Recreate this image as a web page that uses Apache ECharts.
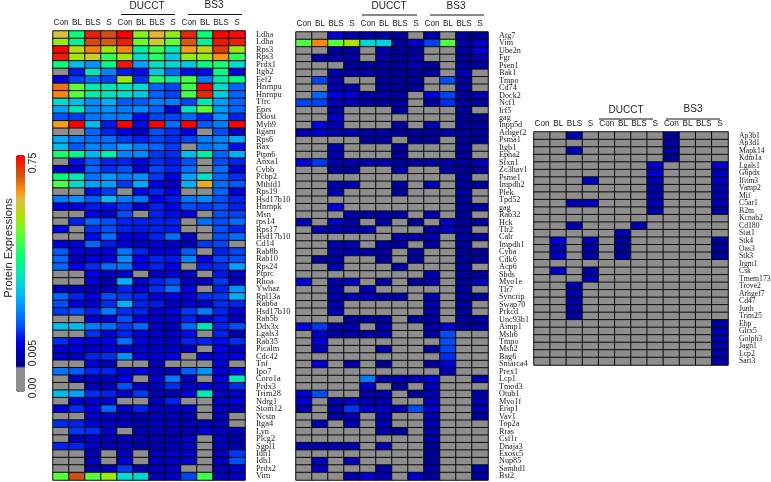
<!DOCTYPE html>
<html><head><meta charset="utf-8">
<style>html,body{margin:0;padding:0;background:#fff}#c{width:771px;height:482px}</style>
<script src="https://cdn.jsdelivr.net/npm/echarts@6/dist/echarts.min.js"></script>
</head><body><div id="c"></div>
<script>
const columns = ['Con','BL','BLS','S','Con','BL','BLS','S','Con','BL','BLS','S'];
const genesA = ['Ldha','Ldha','Rps3','Rps3','Prdx1','Itgb2','Eef2','Hnrnpu','Hnrnpu','Tfrc','Eprs','Ddost','Myh9','Itgam','Rps6','Bax','Ptpn6','Anxa1','Cybb','Pcbp2','Mthfd1','Rps19','Hsd17b10','Hnrnpk','Msn','rps14','Rps17','Hsd17b10','Cd14','Rab8b','Rab10','Rps24','Ptprc','Rhoa','Ywhaz','Rpl13a','Rab6a','Hsd17b10','Rab5b','Ddx3x','Lgals3','Rab35','Picalm','Cdc42','Tnf','Ipo7','Coro1a','Prdx3','Trim28','Ndrg1','Stom12','Ncstn','Itga4','Lyn','Plcg2','Sgpl1','Idh1','Idh1','Prdx2','Vim'];
const genesB = ['Atg7','Vim','Ube2n','Fgr','Psen1','Bak1','Tmpo','Cd74','Dock2','Ncf1','Irf5','gag','Inpp5d','Arhgef2','Psma1','Itgb1','Epha2','Sfxn1','Zc3hav1','Psme1','Impdh2','Plek','Tpd52','gag','Rab32','Hck','Tlr2','Calr','Impdh1','Cyba','Cdk6','Acp6','Sbds','Myo1e','Tlr7','Syncrip','Swap70','Prkcd','Unc93b1','Aimp1','Msh6','Tmpo','Msh2','Bag6','Smarca4','Prex1','Lcp1','Tmod3','Otub1','Myo1f','Erap1','Vav1','Top2a','Rras','Csf1r','Dnaja3','Exosc5','Nup85','Samhd1','Bst2'];
const genesC = ['Ap3b1','Ap3d1','Mapk14','Kdm1a','Lgals1','G6pdx','Ifitm3','Vamp2','Mif','C5ar1','B2m','Kcnab2','Cd180','Stat1','Stk4','Oas3','Stk3','Irgm1','Csk','Tmem173','Trove2','Arhgef7','Cd47','Junb','Trim25','Ebp','Glrx5','Golph3','Jagn1','Lcp2','Sart3'];
// Cell values are positions on the colour bar (0 = grey bottom, 100 = red top); -1 = black cell.
const valuesA = [
[81,57,97,92,100,71,82,72,96,57,100,99],[72,53,93,91,97,68,79,67,91,53,98,97],[100,76,87,73,86,52,63,50,84,77,94,73],[97,74,79,62,73,47,60,44,72,72,85,62],[57,42,36,55,98,38,49,46,44,55,58,47],
[0,23,50,34,23,22,44,30,22,22,55,20],[20,27,31,27,73,25,60,52,64,33,52,56],[88,67,52,50,49,47,30,27,63,100,47,30],[86,66,52,49,48,44,30,27,64,96,45,30],[47,42,35,40,29,29,33,33,27,50,37,30],
[38,50,35,36,33,35,30,19,49,66,37,30],[28,26,32,33,33,22,27,27,30,24,36,24],[84,100,42,23,100,22,100,31,100,29,33,100],[0,0,30,24,21,18,28,25,21,0,28,18],[39,33,31,31,26,24,27,25,27,33,34,39],
[42,29,34,33,38,33,30,26,0,32,34,22],[58,54,41,52,34,35,26,25,42,52,30,40],[0,22,29,24,24,20,25,23,28,0,28,24],[18,18,30,25,28,19,27,24,31,0,31,19],[56,50,32,37,33,36,26,20,38,48,30,25],
[64,47,38,38,26,39,21,18,40,83,31,29],[0,0,22,26,0,21,24,21,0,0,30,19],[33,36,29,42,33,32,21,23,32,35,28,24],[20,20,23,22,26,18,24,21,28,26,28,24],[0,0,21,18,28,0,24,22,20,0,28,27],
[0,24,30,28,24,24,24,24,0,31,28,31],[21,0,25,28,24,23,24,23,0,0,28,24],[0,0,22,31,20,19,24,31,18,0,28,31],[20,20,30,23,20,18,20,18,17,26,27,0],[29,20,19,20,32,24,19,20,29,0,24,27],
[30,17,20,20,35,21,24,23,34,20,27,28],[30,21,25,31,32,21,24,21,0,24,25,38],[0,0,21,18,19,0,18,19,18,0,23,18],[0,0,20,16,40,18,24,27,18,18,26,18],[17,17,16,17,24,19,25,31,20,0,24,36],
[30,24,20,28,26,24,19,21,19,25,26,40],[28,20,19,25,40,24,23,18,19,18,25,24],[26,28,24,33,25,24,18,20,26,33,24,19],[0,0,18,18,28,20,18,18,24,18,23,17],[42,42,33,31,26,30,18,17,30,50,24,28],
[0,0,25,19,24,19,18,18,22,0,24,16],[25,21,20,21,31,20,18,18,24,24,22,25],[19,20,18,20,18,18,18,18,17,0,20,17],[18,18,24,25,36,20,20,21,0,20,21,21],[0,0,20,17,0,0,17,0,0,0,20,0],
[32,29,24,24,19,20,17,17,29,36,19,22],[0,17,17,17,21,0,19,32,17,0,20,50],[0,0,17,17,28,18,18,25,18,20,18,25],[42,38,25,24,18,26,16,16,20,51,18,18],[0,18,18,18,0,0,17,24,0,0,18,20],
[20,25,20,30,18,24,17,18,18,0,18,17],[0,0,19,18,17,16,17,17,16,0,17,0],[25,24,19,18,18,16,17,17,17,17,17,0],[0,26,25,18,0,16,16,16,16,20,17,17],[0,16,18,17,16,16,16,16,18,0,17,16],
[24,24,18,17,17,16,16,17,18,0,17,16],[0,0,17,0,18,0,17,18,18,0,17,26],[0,0,17,0,18,0,17,17,18,0,17,28],[0,0,16,17,26,16,17,18,0,0,17,18],[66,92,66,72,47,46,16,18,27,63,17,18]];
const valuesB = [
[0,0,20,16,15,15,15,0,16,0,14,14],[65,86,66,74,46,46,14,19,27,65,15,18],[0,0,14,15,0,16,14,14,0,0,14,19],[0,15,16,16,0,16,14,16,0,0,14,16],[0,0,0,14,14,14,14,16,14,0,14,14],
[0,0,16,15,15,14,14,14,14,0,16,0],[0,27,16,0,0,14,14,14,0,28,14,0],[0,0,16,16,0,14,14,14,0,0,14,0],[0,30,20,19,15,15,14,0,20,27,14,16],[27,27,16,16,14,14,14,0,14,25,14,14],
[0,0,15,0,0,0,14,0,0,0,14,0],[0,0,19,0,0,0,0,0,0,0,14,13],[0,20,16,0,0,0,14,0,16,0,14,14],[16,19,16,16,15,15,14,14,14,16,14,14],[0,0,0,0,14,14,0,14,14,0,14,14],
[0,0,16,0,0,0,14,0,0,0,14,0],[0,0,16,0,0,0,14,0,0,0,14,0],[20,26,16,16,16,16,14,14,15,15,14,17],[0,0,14,14,0,0,16,0,0,16,14,14],[0,0,0,0,0,0,0,0,0,0,14,0],
[0,0,16,16,0,0,14,0,16,0,14,14],[0,0,17,0,0,0,14,0,0,0,14,-1],[0,0,0,0,0,0,0,0,0,0,14,0],[0,0,20,0,0,0,0,0,0,0,14,14],[0,0,0,15,15,15,15,0,16,0,14,0],
[17,0,18,15,0,15,0,14,0,18,14,14],[0,16,16,15,16,0,0,0,15,18,14,0],[0,0,0,0,0,0,15,15,15,0,14,14],[0,0,16,16,0,15,15,0,15,0,14,0],[0,0,16,16,16,15,0,15,0,0,14,14],
[0,14,14,0,0,14,0,14,0,0,14,14],[0,0,16,0,0,0,15,0,0,0,14,0],[0,0,0,0,0,0,0,0,16,0,14,14],[20,0,16,18,0,15,0,14,16,0,14,18],[0,0,15,0,16,0,0,0,0,0,14,0],
[0,0,15,16,17,15,15,-1,16,0,14,14],[0,0,16,0,0,0,0,0,16,0,14,0],[0,0,17,0,0,0,0,0,15,0,14,-1],[0,0,0,14,14,14,0,14,14,0,14,14],[20,26,15,16,0,15,0,0,15,19,14,15],
[0,19,15,15,15,15,0,0,15,28,0,0],[0,20,0,0,0,0,0,0,0,28,0,0],[0,16,0,0,0,15,0,0,14,27,0,0],[0,0,0,0,0,0,0,0,0,25,0,0],[0,19,0,16,0,14,0,0,15,20,0,0],
[0,0,0,0,0,0,0,0,0,16,0,0],[0,0,0,0,33,15,16,16,19,0,0,16],[0,0,0,0,18,0,14,0,17,0,0,0],[19,28,0,0,16,16,0,14,17,0,0,16],[19,0,15,18,16,16,0,0,17,0,0,16],
[15,0,15,26,18,18,16,28,18,0,0,16],[0,0,14,16,0,16,0,0,16,0,0,14],[0,16,0,16,0,16,0,0,16,0,0,0],[0,0,0,0,0,15,14,0,15,0,0,-1],[0,0,0,0,0,0,0,0,14,0,0,0],
[16,16,16,16,0,16,0,0,14,0,0,0],[0,0,0,0,0,0,0,0,14,0,0,0],[0,16,0,16,0,0,0,0,14,0,0,0],[0,17,0,0,0,15,0,0,15,0,0,15],[0,0,0,16,19,16,0,19,14,0,0,14]];
const valuesC = [
[0,0,16,0,0,0,0,0,14,0,0,0],[0,0,0,0,0,0,0,0,14,0,0,0],[0,0,16,0,0,0,0,0,14,0,0,0],[0,0,0,0,0,0,0,0,13,0,0,0],[0,0,0,0,0,0,0,18,0,0,0,18],
[0,0,0,0,0,0,0,18,0,0,0,17],[0,0,0,17,0,0,0,16,0,0,0,17],[0,0,0,0,0,0,0,15,0,0,0,16],[0,0,0,0,0,0,0,15,0,0,0,16],[0,0,16,17,0,0,0,16,0,0,0,16],
[0,0,0,0,0,0,0,14,0,0,0,14],[0,0,0,0,0,0,0,-1,0,0,0,-1],[0,0,16,0,0,0,16,0,0,0,0,0],[0,0,0,0,0,16,0,0,0,0,0,0],[0,19,0,16,0,14,0,0,0,0,0,14],
[0,16,0,15,0,14,0,0,0,0,0,14],[0,18,0,15,0,14,0,0,0,0,0,14],[0,0,0,0,0,-1,0,0,0,0,0,0],[0,18,0,15,0,0,0,0,0,0,0,0],[0,0,0,16,0,0,0,0,0,0,0,0],
[0,0,16,0,0,0,0,0,0,0,0,0],[0,0,15,0,0,0,0,0,0,0,0,0],[0,0,15,0,0,0,0,0,0,0,0,0],[0,0,15,0,0,0,0,0,0,0,0,0],[0,0,15,0,0,0,0,0,0,0,0,0],
[0,0,0,0,0,0,0,0,0,0,0,15],[0,0,0,0,0,0,0,0,0,0,0,15],[0,0,0,0,0,0,0,0,0,0,0,15],[0,0,0,0,0,0,0,0,0,0,0,15],[0,0,0,0,0,0,0,0,0,0,0,15],[0,0,0,0,0,0,0,0,0,0,0,15]];
const colorStops = [[0,'#8e8e8e'],[10.8,'#8e8e8e'],[11,'#000080'],[16,'#0000b0'],[21,'#0000e8'],[30,'#0066ff'],[39,'#00aaff'],[47,'#00dcd2'],[56,'#00ff80'],[67,'#60ff30'],[75,'#b4e000'],[81,'#dcc040'],[85,'#ff9010'],[92,'#d05010'],[100,'#ff0000']];
const legendLabels = ['0.75','0.005','0.00'];

function hex(c){return [1,3,5].map(i=>parseInt(c.substr(i,2),16));}
function scaleColors(){
  const out=[];
  for(let i=0;i<=500;i++){const v=i/5;let k=0;while(k<colorStops.length-2&&v>colorStops[k+1][0])k++;
    const a=colorStops[k],b=colorStops[k+1],t=Math.min(1,(v-a[0])/(b[0]-a[0]));
    const A=hex(a[1]),B=hex(b[1]);out.push('rgb('+A.map((x,j)=>Math.round(x+(B[j]-x)*t)).join(',')+')');}
  return out;
}
const panels=[
 {vals:valuesA,genes:genesA,left:53,top:31,w:192,h:449,geneSize:8.4},
 {vals:valuesB,genes:genesB,left:296,top:32,w:192,h:448,geneSize:8.2},
 {vals:valuesC,genes:genesC,left:534,top:132,w:194,h:233,geneSize:7.7}];
const grid=[],xAxis=[],yAxis=[],series=[];
panels.forEach((p,i)=>{
 grid.push({left:p.left,top:p.top,width:p.w,height:p.h,containLabel:false,outerBoundsMode:'none'});
 xAxis.push({gridIndex:i,type:'category',position:'top',data:columns,axisLine:{show:false},axisTick:{show:false},splitLine:{show:false},
   axisLabel:{interval:0,margin:4,fontFamily:'Liberation Sans',fontSize:8.2,color:'#1a1a1a',hideOverlap:false}});
 yAxis.push({gridIndex:i,type:'category',inverse:true,position:'right',data:p.genes,axisLine:{show:false},axisTick:{show:false},splitLine:{show:false},
   axisLabel:{interval:0,margin:11,fontFamily:'Liberation Serif',fontSize:p.geneSize,color:'#222',hideOverlap:false}});
 const data=[];p.vals.forEach((r,y)=>r.forEach((v,x)=>data.push([x,y,v])));
 series.push({type:'heatmap',xAxisIndex:i,yAxisIndex:i,data:data,progressive:0,animation:false,itemStyle:{borderColor:'#0c0c0c',borderWidth:1},emphasis:{disabled:true}});
});
function text(x,y,s,size,rot,font){return {type:'text',x:x,y:y,rotation:rot?Math.PI/2:0,style:{text:s,align:'center',verticalAlign:'middle',fontSize:size,fontFamily:font||'Liberation Sans',fill:'#222'}};}
function line(x1,x2,y){return {type:'line',shape:{x1:x1,y1:y,x2:x2,y2:y},style:{stroke:'#111',lineWidth:1.2}};}
const graphic=[
 text(147,6,'DUCCT',10),line(121,175,14.5),text(214,5,'BS3',10),line(188,242,14.5),
 text(389,6,'DUCCT',10),line(362,417,15),text(456,6,'BS3',10),line(430,484,15),
 text(626,110,'DUCCT',10),line(599,653,119),text(693,109,'BS3',10),line(666,720,119),
 text(9,248,'Protein Expressions',11.2,true),
 text(33,163,legendLabels[0],10.5,true),text(33,353,legendLabels[1],10.5,true),text(33,388,legendLabels[2],10.5,true)];
const chart=echarts.init(document.getElementById('c'),null,{renderer:'canvas'});
chart.setOption({animation:false,backgroundColor:'#fff',grid,xAxis,yAxis,series,graphic,
 visualMap:{type:'continuous',min:0,max:100,dimension:2,seriesIndex:[0,1,2],calculable:false,realtime:false,left:16,top:155,padding:0,itemWidth:9,itemHeight:237,text:null,showLabel:false,
   inRange:{color:scaleColors()},outOfRange:{color:'#000'},textStyle:{color:'transparent'}}});
</script></body></html>
